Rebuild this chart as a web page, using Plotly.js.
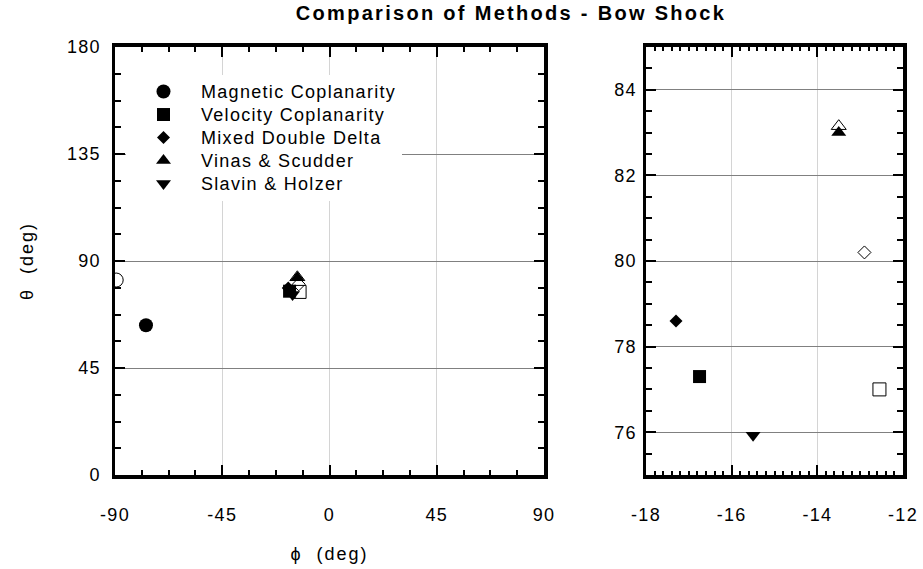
<!DOCTYPE html>
<html>
<head>
<meta charset="utf-8">
<script src="https://cdn.plot.ly/plotly-3.0.1.min.js"></script>
<style>
html,body{margin:0;padding:0;background:#fff;}
#chart{width:923px;height:569px;}
.xaxislayer-above text, .yaxislayer-above text { letter-spacing: 1.3px; }
.legendtext { font-size: 18px !important; letter-spacing: 1.3px; }
.gtitle { letter-spacing: 2.3px; }
.xtitle, .ytitle { letter-spacing: 2px; }
</style>
</head>
<body>
<div id="chart"></div>
<script>
// ---- data ----
const methods = ['Magnetic Coplanarity', 'Velocity Coplanarity', 'Mixed Double Delta', 'Vinas & Scudder', 'Slavin & Holzer'];
const filledSymbols = ['circle', 'square', 'diamond', 'triangle-up', 'triangle-down'];
const filledPhi   = [-77.0, -16.75, -17.3, -13.5, -15.5];
const filledTheta = [63.0, 77.3, 78.6, 83.0, 75.93];

const openSymbols = ['circle-open', 'square-open', 'diamond-open', 'triangle-up-open'];
const openPhi   = [-89.5, -12.55, -12.9, -13.5];
const openTheta = [82.0, 77.0, 80.2, 83.15];

const leftXTicks = [-90, -45, 0, 45, 90];
const leftXLabels = ['-90', '-45', '0', '45', '90'];
const leftYTicks = [0, 45, 90, 135, 180];
const leftYLabels = ['0', '45', '90', '135', '180'];
const rightXTicks = [-18, -16, -14, -12];
const rightXLabels = ['-18', '-16', '-14', '-12'];
const rightYTicks = [76, 78, 80, 82, 84];
const rightYLabels = ['76', '78', '80', '82', '84'];

const titleText = 'Comparison of Methods - Bow Shock';
const xTitle = 'ϕ  (deg)';
const yTitle = 'θ  (deg)';

// ---- traces ----
const FONT = 'Liberation Sans, Arial, sans-serif';
const sizes = {circle: 14, square: 13, diamond: 10, 'triangle-up': 13, 'triangle-down': 13};
const traces = [];
[['x', 'y', true], ['x2', 'y2', false]].forEach(([xa, ya, leg]) => {
  methods.forEach((m, i) => {
    traces.push({
      type: 'scatter', mode: 'markers', name: m, legendgroup: m,
      showlegend: leg, xaxis: xa, yaxis: ya,
      x: [filledPhi[i]], y: [filledTheta[i]],
      marker: {symbol: filledSymbols[i], size: sizes[filledSymbols[i]], color: '#000', line: {width: 0}},
      cliponaxis: true
    });
  });
  openSymbols.forEach((s, i) => {
    const base = s.replace('-open', '');
    traces.push({
      type: 'scatter', mode: 'markers', showlegend: false, xaxis: xa, yaxis: ya,
      x: [openPhi[i]], y: [openTheta[i]],
      marker: {symbol: s, size: sizes[base], color: '#000', line: {width: 1, color: '#000'}},
      cliponaxis: true
    });
  });
});

function axis(extra) {
  return Object.assign({
    showline: true, linecolor: '#000', linewidth: 3.5, mirror: 'allticks',
    ticks: 'inside', ticklen: 10, tickwidth: 2, tickcolor: '#000',
    showgrid: true, zeroline: false, tickmode: 'array',
    tickfont: {family: FONT, size: 18, color: '#000'},
    fixedrange: true
  }, extra);
}

const W = 923, H = 569;
const yDom = [(H - 475) / H, (H - 47) / H];

const layout = {
  width: W, height: H,
  margin: {l: 0, r: 0, t: 0, b: 0},
  paper_bgcolor: '#fff', plot_bgcolor: '#fff',
  font: {family: FONT, color: '#000'},
  showlegend: true,
  title: {text: titleText, font: {family: FONT, size: 20, weight: 'bold', color: '#000'},
          x: 511 / W, xanchor: 'center', y: 1 - 13 / H, yanchor: 'middle', xref: 'paper', yref: 'paper'},
  xaxis: axis({domain: [115 / W, 544 / W], range: [-90, 90], tickvals: leftXTicks, ticktext: leftXLabels, linewidth: 4,
    gridcolor: '#d4d4d4', gridwidth: 1, ticklabelstandoff: 20,
    minor: {dtick: 11.25, tick0: -90, ticks: 'inside', ticklen: 5, tickwidth: 2, tickcolor: '#000', showgrid: false},
    title: {text: xTitle, font: {family: FONT, size: 18}, standoff: 25}, anchor: 'y'}),
  yaxis: axis({domain: yDom, range: [0, 180], tickvals: leftYTicks, ticktext: leftYLabels,
    gridcolor: '#808080', gridwidth: 1, ticklabelstandoff: 7,
    minor: {dtick: 11.25, tick0: 0, ticks: 'inside', ticklen: 6, tickwidth: 2, tickcolor: '#000', showgrid: false},
    title: {text: yTitle, font: {family: FONT, size: 18}, standoff: 33}, anchor: 'x'}),
  xaxis2: axis({domain: [646 / W, 903 / W], range: [-18, -12], tickvals: rightXTicks, ticktext: rightXLabels, linewidth: 4,
    gridcolor: '#d4d4d4', gridwidth: 1, ticklabelstandoff: 20,
    minor: {dtick: 0.2, tick0: -18, ticks: 'inside', ticklen: 4, tickwidth: 2, tickcolor: '#000', showgrid: false},
    anchor: 'y2'}),
  yaxis2: axis({domain: yDom, range: [75, 85], tickvals: rightYTicks, ticktext: rightYLabels,
    gridcolor: '#808080', gridwidth: 1, ticklabelstandoff: 2,
    minor: {dtick: 0.5, tick0: 75, ticks: 'inside', ticklen: 6, tickwidth: 2, tickcolor: '#000', showgrid: false},
    anchor: 'x2'}),
  legend: {x: 126 / W, xanchor: 'left', y: 1 - 75 / H, yanchor: 'top',
           bgcolor: '#fff', borderwidth: 0, itemwidth: 65,
           font: {family: FONT, size: 15.4, color: '#000'}, tracegroupgap: 0}
};

Plotly.newPlot('chart', traces, layout, {staticPlot: true, displayModeBar: false});
</script>
</body>
</html>
